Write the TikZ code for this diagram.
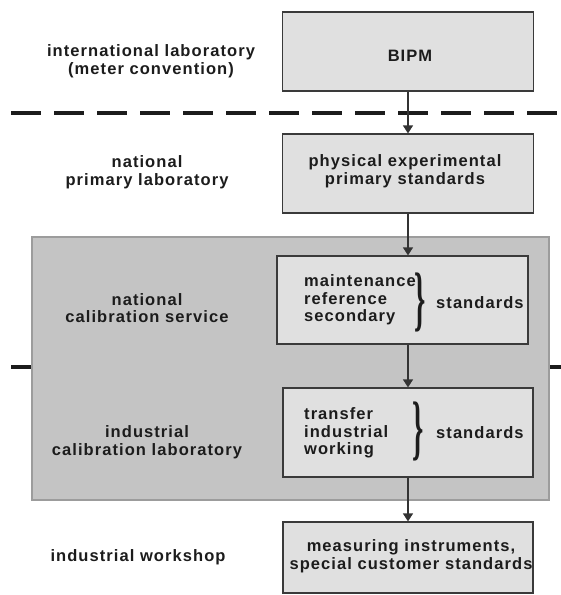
\documentclass[tikz,border=0pt]{standalone}
\usepackage{fontspec}
\setmainfont{Liberation Sans}[LetterSpace=6.5]
\newfontfamily\bracefont{Liberation Serif}
\usepackage{graphicx}
\usetikzlibrary{arrows.meta}
\definecolor{boxfill}{HTML}{E0E0E0}
\definecolor{boxline}{HTML}{3A3A3A}
\definecolor{grayfill}{HTML}{C4C4C4}
\definecolor{grayline}{HTML}{9C9C9C}
\definecolor{txt}{HTML}{1C1C1C}
\definecolor{arrowc}{HTML}{333333}
\begin{document}
\begin{tikzpicture}[x=1pt,y=-1pt,
  lbl/.style={font=\fontsize{16.5}{17.5}\selectfont\bfseries, text=txt, align=center, inner sep=0pt},
  lbll/.style={font=\fontsize{16.5}{17.5}\selectfont\bfseries, text=txt, align=left, inner sep=0pt, anchor=west},
  stdbox/.style={draw=boxline, line width=1.2pt, fill=boxfill, inner sep=0pt},
  flow/.style={draw=arrowc, line width=1.2pt, -{Triangle[width=10pt,length=8pt]}},
  bracebox/.style={font=\fontsize{22}{22}\selectfont\bracefont\bfseries, text=txt, inner sep=0pt}]
\useasboundingbox[fill=white] (0,0) rectangle (561,595);
% separators
\coordinate (d1) at (11,113);
\coordinate (d2) at (561,113);
\coordinate (s1) at (11,367);
\coordinate (s2) at (561,367);
\draw[line width=3.2pt, color=txt, dash pattern=on 30pt off 13pt] (d1) -- (d2);
\draw[line width=3.2pt, color=txt] (s1) -- (s2);
% grey region
\node[draw=grayline, line width=2.5pt, fill=grayfill, minimum width=517pt, minimum height=263pt, inner sep=0pt] (region) at (290.5,368.5) {};
% boxes
\node[stdbox, minimum width=251pt, minimum height=79pt] (bipm) at (408,51.5) {};
\node[stdbox, minimum width=251pt, minimum height=79pt] (primary) at (408,173.5) {};
\node[stdbox, minimum width=251pt, minimum height=88pt] (maint) at (402.5,300) {};
\node[stdbox, minimum width=250pt, minimum height=89pt] (transfer) at (408,432.5) {};
\node[stdbox, minimum width=250pt, minimum height=71pt] (meas) at (408,557.5) {};
% arrows
\draw[flow] (bipm.south) -- (primary.north);
\draw[flow] (primary.south) -- (primary.south |- maint.north);
\draw[flow] (transfer.north |- maint.south) -- (transfer.north);
\draw[flow] (transfer.south) -- (meas.north);
% box texts
\node[lbl] (tbipm) at (410,56) {BIPM};
\node[lbl] (tprim) at (405,171) {physical experimental\\primary standards};
\node[lbll] (tmaint) at (304,300) {maintenance\\reference\\secondary};
\node[bracebox] (bmaint) at (420,302) {\scalebox{1.3}[3.25]{\}}};
\node[lbll] (smaint) at (436,303) {standards};
\node[lbll] (ttrans) at (304,433) {transfer\\industrial\\working};
\node[bracebox] (btrans) at (418,431) {\scalebox{1.3}[3.25]{\}}};
\node[lbll] (strans) at (436,433) {standards};
\node[lbl] (tmeas) at (411,556) {measuring instruments,\\special customer standards};
% left labels
\node[lbl] (l1) at (151,61) {international laboratory\\(meter convention)};
\node[lbl] (l2) at (147,172) {national\\primary laboratory};
\node[lbl] (l3) at (147,308) {national\\calibration service};
\node[lbl] (l4) at (147,442) {industrial\\calibration laboratory};
\node[lbl] (l5) at (138,557) {industrial workshop};
\end{tikzpicture}
\end{document}
